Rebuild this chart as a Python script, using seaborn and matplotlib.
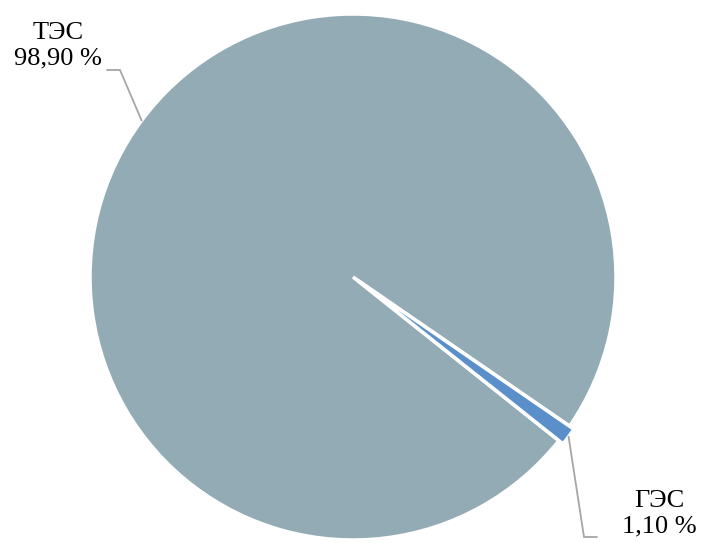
import numpy as np
import matplotlib
matplotlib.use("Agg")
import matplotlib.pyplot as plt
import seaborn as sns

# shares of electricity generation
labels = ["ТЭС", "ГЭС"]
shares = [98.90, 1.10]
colors = ["#93abb4", "#5b8fc9"]
explode = [0.0, 0.02]

sns.set_theme(style="white")
plt.rcParams["font.family"] = ["Liberation Serif", "DejaVu Serif"]

W, H = 702, 543
cx, cy, R = 353, 277, 263


def px(x, y):
    # pixel position -> data units of the pie
    return (x - cx) / R, (cy - y) / R


fig = plt.figure(figsize=(W / 100, H / 100), dpi=100)
ax = fig.add_axes([0, 0, 1, 1])

wedges, _ = ax.pie(shares, colors=colors, explode=explode, startangle=-38.5,
                   counterclock=False, radius=1,
                   wedgeprops=dict(edgecolor="white", linewidth=2.5))

ax.set_xlim(px(0, 0)[0], px(W, 0)[0])
ax.set_ylim(px(0, H)[1], px(0, 0)[1])
ax.set_aspect("auto")
ax.axis("off")

# label layout: elbow, line end, text centre (pixels)
layout = [
    ((120, 70), (107, 70), (58, 46)),
    ((584, 537), (597, 537), (659, 514)),
]

for w, lab, val, ex, (elb, end, txt) in zip(wedges, labels, shares, explode, layout):
    mid = np.deg2rad((w.theta1 + w.theta2) / 2)
    r = 1 + ex
    start = (r * np.cos(mid), r * np.sin(mid))
    e1 = px(*elb)
    e2 = px(*end)
    ax.plot([start[0], e1[0], e2[0]], [start[1], e1[1], e2[1]],
            color="#a6a6a6", lw=1.3, solid_joinstyle="miter")
    t = px(*txt)
    ax.text(t[0], t[1], f"{lab}\n{val:.2f} %".replace(".", ","),
            ha="center", va="center", fontsize=19, linespacing=1.2,
            color="black")

fig.savefig("out.png", dpi=100)
